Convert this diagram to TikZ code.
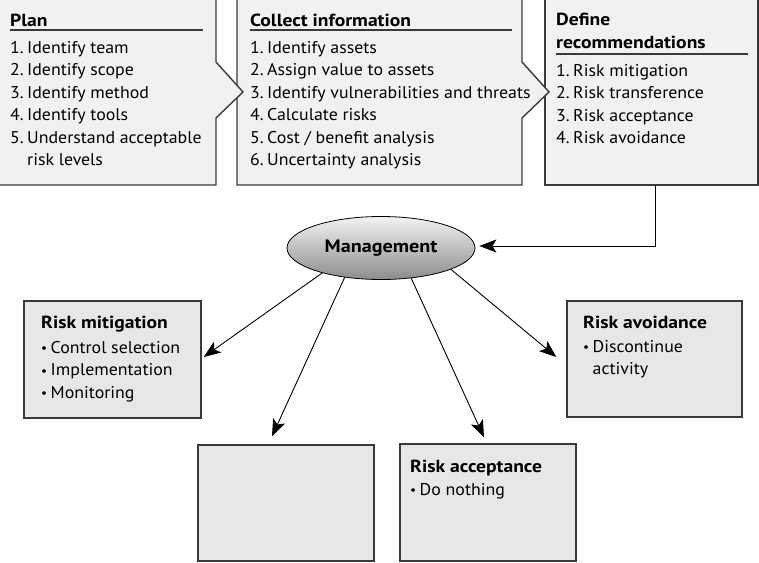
\documentclass[tikz,border=0pt]{standalone}
\usepackage{fontspec}
\usepackage{graphicx}
\setmainfont{PT Sans}[FakeStretch=1.05]
\newfontfamily\ttlfont{PT Sans}[FakeStretch=1.12]
\usetikzlibrary{arrows.meta,calc,shapes.geometric}
\definecolor{topfill}{HTML}{F1F1F1}
\definecolor{botfill}{HTML}{E6E7E8}
\definecolor{edge}{HTML}{3A3A3A}
\newcommand\bul{\makebox[9.5pt][l]{\raisebox{0.5pt}{\scalebox{0.75}{•}}}}
\newcommand\num[1]{\makebox[17pt][l]{#1}}
\tikzset{
  txt/.style={anchor=base west,inner sep=0pt,font=\fontsize{17}{20}\selectfont},
  ttl/.style={anchor=base west,inner sep=0pt,font=\ttlfont\fontsize{17.5}{20}\selectfont\bfseries},
  topbox/.style={draw=edge,line width=1.4pt,fill=topfill,line join=miter},
  botbox/.style={draw=edge,line width=1.4pt,fill=botfill,rectangle,inner sep=0pt},
  hrule/.style={draw=edge,line width=1.2pt},
  arr/.style={draw=black,line width=0.9pt,-{Stealth[length=17pt,width=13pt,inset=4pt]}},
}
\begin{document}
\begin{tikzpicture}[x=1pt,y=-1pt]
\useasboundingbox (0,0) rectangle (759,562);
% top boxes
\draw[topbox] (545,-3) -- (758,-3) -- (758,185) -- (545,185) -- cycle;
\draw[topbox] (237,-3) -- (522,-3) -- (522,62) -- (549,92) -- (522,118) -- (522,185) -- (237,185) -- cycle;
\draw[topbox] (-3,-3) -- (216,-3) -- (216,62) -- (243,92) -- (216,118) -- (216,185) -- (-3,185) -- cycle;
\coordinate (defs) at (655,185);
% Plan
\node[ttl] (plant) at (10,26) {Plan};
\draw[hrule] (10,30) -- (203,30);
\node[txt] (p1) at (10,53) {\num{1.}Identify team};
\node[txt] (p2) at (10,75.5) {\num{2.}Identify scope};
\node[txt] (p3) at (10,98) {\num{3.}Identify method};
\node[txt] (p4) at (10,120.5) {\num{4.}Identify tools};
\node[txt] (p5) at (10,143) {\num{5.}Understand acceptable};
\node[txt] (p6) at (27,165.5) {risk levels};
% Collect
\node[ttl] (colt) at (250,26) {Collect information};
\draw[hrule] (250,30) -- (512,30);
\node[txt] (c1) at (250,53) {\num{1.}Identify assets};
\node[txt] (c2) at (250,75.5) {\num{2.}Assign value to assets};
\node[txt] (c3) at (250,98) {\num{3.}Identify vulnerabilities and threats};
\node[txt] (c4) at (250,120.5) {\num{4.}Calculate risks};
\node[txt] (c5) at (250,143) {\num{5.}Cost / benefit analysis};
\node[txt] (c6) at (250,165.5) {\num{6.}Uncertainty analysis};
% Define
\node[ttl] (deft1) at (556,25) {Define};
\node[ttl] (deft2) at (556,48) {recommendations};
\draw[hrule] (556,54) -- (748,54);
\node[txt] (d1) at (556,76) {\num{1.}Risk mitigation};
\node[txt] (d2) at (556,98.5) {\num{2.}Risk transference};
\node[txt] (d3) at (556,121) {\num{3.}Risk acceptance};
\node[txt] (d4) at (556,143.5) {\num{4.}Risk avoidance};
% Management
\node[ellipse,draw=black,line width=0.8pt,minimum width=188pt,minimum height=63pt,
      top color=black!5,bottom color=black!45,inner sep=0pt,
      font=\ttlfont\fontsize{18}{20}\selectfont\bfseries] (mgmt) at (381,248) {Management};
% bottom boxes
\node[botbox,minimum width=177pt,minimum height=117pt] (mit) at (112.5,359.5) {};
\node[botbox,minimum width=175pt,minimum height=116pt] (avo) at (654.5,359) {};
\node[botbox,minimum width=176pt,minimum height=117pt] (acc) at (488,502.5) {};
\node[botbox,minimum width=176pt,minimum height=116pt] (blank) at (286,503) {};
% bottom texts
\node[ttl] (mitt) at (41,328) {Risk mitigation};
\node[txt] (mit1) at (41,353) {\bul Control selection};
\node[txt] (mit2) at (41,375.5) {\bul Implementation};
\node[txt] (mit3) at (41,398) {\bul Monitoring};
\node[ttl] (avot) at (583,328) {Risk avoidance};
\node[txt] (avo1) at (583,352) {\bul Discontinue};
\node[txt] (avo2) at (592.5,374.5) {activity};
\node[ttl] (acct) at (410,472.5) {Risk acceptance};
\node[txt] (acc1) at (410,495) {\bul Do nothing};
% connectors
\draw[arr,line width=1pt] (defs) |- ($(mgmt.east)+(4,-2)$);
\draw[arr] (mgmt.203.8) -- ($(mit.east)+(2,-2.5)$);
\draw[arr] (mgmt.219.8) -- ($(blank.north)+(-14,-8)$);
\draw[arr] (mgmt.315.9) -- ($(acc.north)+(-4,-6)$);
\draw[arr] (mgmt.343) -- ($(avo.west)+(-10,-2)$);
\end{tikzpicture}
\end{document}
